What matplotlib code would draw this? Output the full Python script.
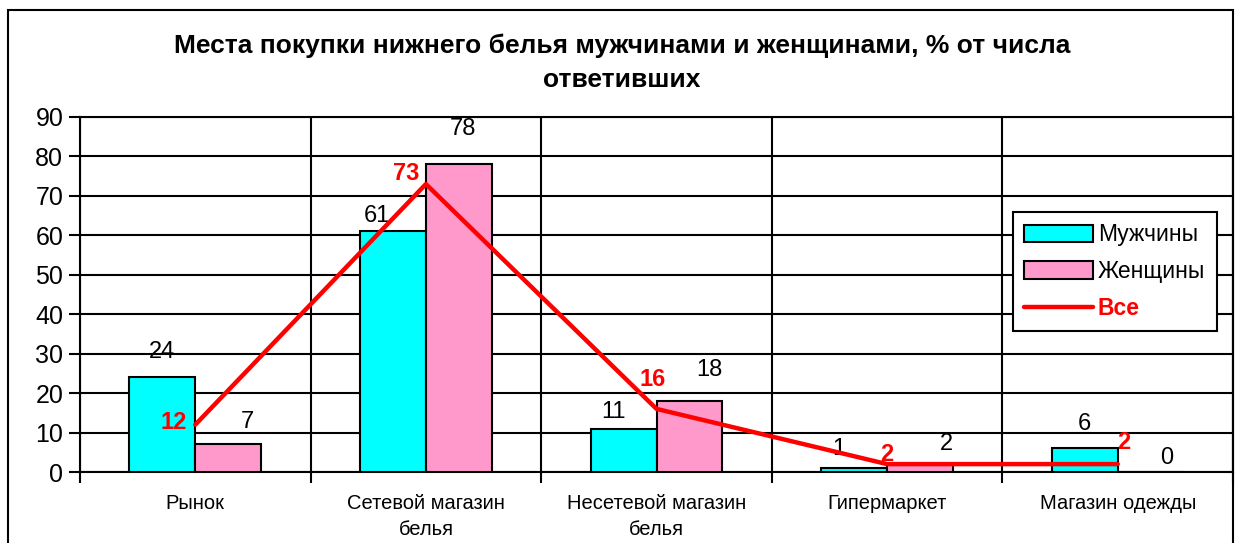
import matplotlib.pyplot as plt
from matplotlib.patches import Rectangle
import numpy as np

plt.rcParams['font.family'] = ['Liberation Sans', 'DejaVu Sans']

categories = ['Рынок', 'Сетевой магазин\nбелья', 'Несетевой магазин\nбелья',
              'Гипермаркет', 'Магазин одежды']
men = [24, 61, 11, 1, 6]
women = [7, 78, 18, 2, 0]
total = [12, 73, 16, 2, 2]

# hand-placed label offsets (pixels) as in the original chart
men_off = [(0, 25), (-16, 15), (-10, 17), (-15, 19), (0, 24)]
women_off = [(19, 22), (4, 35), (20, 31), (26, 20), (16, 14)]
total_off = [(-22, 2), (-20, 11), (-4, 29), (0, 10), (6, 22)]

W, H = 1237, 543
fig = plt.figure(figsize=(W / 100, H / 100), dpi=100)
ax = fig.add_axes([80 / W, (H - 472) / H, (1233 - 80) / W, (472 - 117) / H])

# outer chart border
fig.patches.append(Rectangle((8 / W, -0.1), (1233 - 8) / W, 1.1 - 10 / H,
                             transform=fig.transFigure, fill=False,
                             edgecolor='black', linewidth=1.5, zorder=10))

x = np.arange(len(categories)) + 0.5
bw = 0.286
b1 = ax.bar(x - bw / 2, men, bw, color='#00FFFF', edgecolor='black', linewidth=1.5,
            label='Мужчины', zorder=3)
b2 = ax.bar(x + bw / 2, women, bw, color='#FF99CC', edgecolor='black', linewidth=1.5,
            label='Женщины', zorder=3)
ln, = ax.plot(x, total, color='#FF0000', linewidth=3.2, label='Все', zorder=4,
              solid_capstyle='round')

for xi, v, (dx, dy) in zip(x - bw / 2, men, men_off):
    ax.annotate(str(v), (xi, v), xytext=(dx, dy), textcoords='offset pixels',
                ha='center', va='center', fontsize=17)
for xi, v, (dx, dy) in zip(x + bw / 2, women, women_off):
    ax.annotate(str(v), (xi, v), xytext=(dx, dy), textcoords='offset pixels',
                ha='center', va='center', fontsize=17)
for xi, v, (dx, dy) in zip(x, total, total_off):
    ax.annotate(str(v), (xi, v), xytext=(dx, dy), textcoords='offset pixels',
                ha='center', va='center', fontsize=17, fontweight='bold',
                color='#FF0000')

ax.set_xlim(0, 5)
ax.set_ylim(0, 90)
ax.set_yticks(range(0, 91, 10))
ax.tick_params(axis='y', labelsize=18, length=8, width=1.5, pad=4)
ax.set_xticks(x)
ax.set_xticklabels(categories, fontsize=14.5, linespacing=1.45)
ax.tick_params(axis='x', length=0, pad=16)
ax.set_xticks(range(0, 6), minor=True)
ax.tick_params(axis='x', which='minor', length=8, width=1.5)
ax.grid(True, which='major', axis='y', color='black', linewidth=1.5, zorder=0)
ax.grid(True, which='minor', axis='x', color='black', linewidth=1.5, zorder=0)
ax.set_axisbelow(True)
for s in ax.spines.values():
    s.set_linewidth(1.5)

leg = ax.legend([b1, b2, ln], ['Мужчины', 'Женщины', 'Все'], loc='upper left',
                bbox_to_anchor=((1013 - 80) / (1233 - 80), (472 - 212) / (472 - 117)),
                fontsize=16.5, frameon=True, fancybox=False, edgecolor='black',
                framealpha=1, handlelength=3.0, handleheight=0.8,
                handletextpad=0.2, labelspacing=0.6, borderpad=0.5,
                borderaxespad=0)
leg.get_frame().set_linewidth(1.5)
leg.set_zorder(6)
leg.get_texts()[2].set_color('#FF0000')
leg.get_texts()[2].set_fontweight('bold')

fig.text(622 / W, 1 - 63 / H, 'Места покупки нижнего белья мужчинами и женщинами, % от числа\nответивших',
         ha='center', va='center', fontsize=19, fontweight='bold', linespacing=1.55)

fig.savefig('out.png', dpi=100)
